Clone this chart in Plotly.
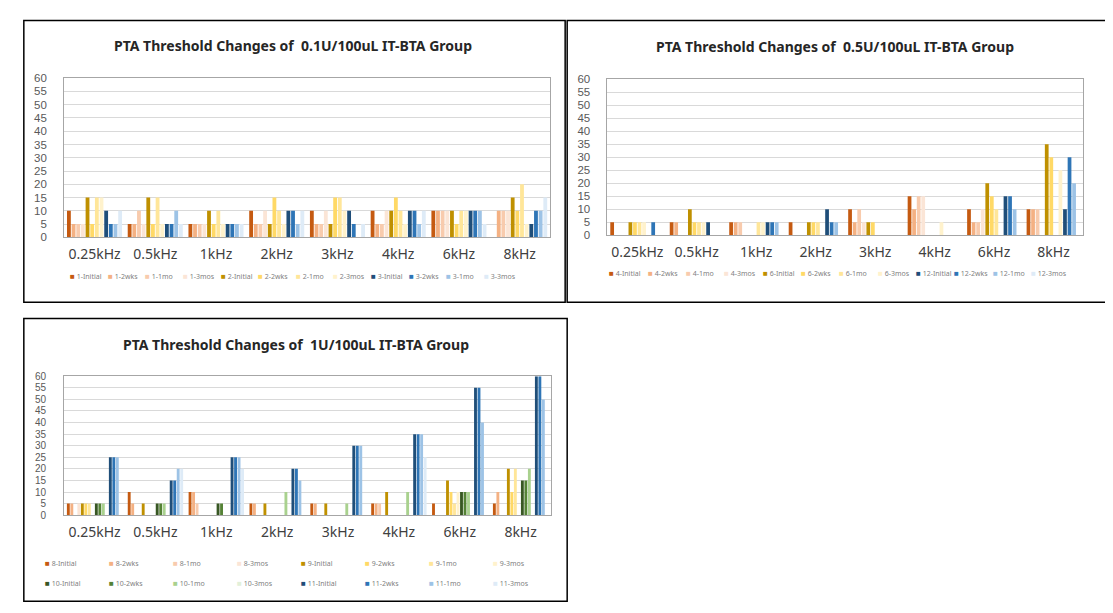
import plotly.graph_objects as go

W, H = 1113, 613

freqs = ["0.25kHz", "0.5kHz", "1kHz", "2kHz", "3kHz", "4kHz", "6kHz", "8kHz"]

# ---------- Panel 1: 0.1U/100uL ----------
p1_title = "PTA Threshold Changes of  0.1U/100uL IT-BTA Group"
p1_names = ["1-Initial", "1-2wks", "1-1mo", "1-3mos",
            "2-Initial", "2-2wks", "2-1mo", "2-3mos",
            "3-Initial", "3-2wks", "3-1mo", "3-3mos"]
p1_values = [
    [10, 5, 5, 10, 10, 10, 10, 0],    # 1-Initial
    [5, 5, 5, 5, 5, 5, 10, 10],       # 1-2wks
    [5, 10, 5, 5, 5, 5, 10, 10],      # 1-1mo
    [5, 5, 5, 10, 10, 10, 10, 10],    # 1-3mos
    [15, 15, 10, 5, 5, 10, 10, 15],   # 2-Initial
    [5, 5, 5, 15, 15, 15, 5, 10],     # 2-2wks
    [15, 15, 10, 10, 15, 10, 10, 20], # 2-1mo
    [15, 5, 5, 5, 10, 5, 10, 5],      # 2-3mos
    [10, 5, 5, 10, 10, 10, 10, 5],    # 3-Initial
    [5, 5, 5, 10, 5, 10, 10, 10],     # 3-2wks
    [5, 10, 5, 5, 0, 5, 10, 10],      # 3-1mo
    [10, 5, 5, 10, 5, 10, 5, 15],     # 3-3mos
]

# ---------- Panel 2: 0.5U/100uL ----------
p2_title = "PTA Threshold Changes of  0.5U/100uL IT-BTA Group"
p2_names = ["4-Initial", "4-2wks", "4-1mo", "4-3mos",
            "6-Initial", "6-2wks", "6-1mo", "6-3mos",
            "12-Initial", "12-2wks", "12-1mo", "12-3mos"]
p2_values = [
    [5, 5, 5, 5, 10, 15, 10, 10],     # 4-Initial
    [0, 5, 5, 0, 5, 10, 5, 10],       # 4-2wks
    [0, 0, 5, 0, 10, 15, 5, 10],      # 4-1mo
    [0, 0, 0, 0, 5, 15, 10, 0],       # 4-3mos
    [5, 10, 0, 5, 5, 0, 20, 35],      # 6-Initial
    [5, 5, 0, 5, 5, 0, 15, 30],       # 6-2wks
    [5, 5, 5, 5, 0, 0, 10, 0],        # 6-1mo
    [5, 5, 5, 0, 0, 5, 0, 25],        # 6-3mos
    [0, 5, 5, 10, 0, 0, 15, 10],      # 12-Initial
    [5, 0, 5, 5, 0, 0, 15, 30],       # 12-2wks
    [0, 0, 5, 5, 0, 0, 10, 20],       # 12-1mo
    [0, 0, 0, 0, 0, 0, 0, 0],         # 12-3mos
]

# ---------- Panel 3: 1U/100uL ----------
p3_title = "PTA Threshold Changes of  1U/100uL IT-BTA Group"
p3_names = ["8-Initial", "8-2wks", "8-1mo", "8-3mos",
            "9-Initial", "9-2wks", "9-1mo", "9-3mos",
            "10-Initial", "10-2wks", "10-1mo", "10-3mos",
            "11-Initial", "11-2wks", "11-1mo", "11-3mos"]
p3_values = [
    [5, 10, 10, 5, 5, 5, 5, 5],        # 8-Initial
    [5, 5, 10, 5, 5, 5, 0, 10],        # 8-2wks
    [0, 0, 5, 0, 0, 5, 0, 0],          # 8-1mo
    [5, 0, 0, 0, 0, 0, 0, 0],          # 8-3mos
    [5, 5, 0, 5, 5, 10, 15, 20],       # 9-Initial
    [5, 0, 0, 0, 0, 0, 10, 10],        # 9-2wks
    [5, 0, 0, 0, 0, 0, 5, 20],         # 9-1mo
    [0, 0, 0, 0, 0, 0, 10, 0],         # 9-3mos
    [5, 5, 5, 0, 0, 0, 10, 15],        # 10-Initial
    [5, 5, 5, 0, 0, 0, 10, 15],        # 10-2wks
    [5, 5, 0, 10, 5, 10, 10, 20],      # 10-1mo
    [0, 0, 0, 0, 0, 0, 0, 0],          # 10-3mos
    [25, 15, 25, 20, 30, 35, 55, 60],  # 11-Initial
    [25, 15, 25, 20, 30, 35, 55, 60],  # 11-2wks
    [25, 20, 25, 15, 30, 35, 40, 50],  # 11-1mo
    [0, 20, 20, 0, 0, 25, 0, 0],       # 11-3mos
]

y_ticks = list(range(0, 61, 5))

orange = ["#C55A11", "#F4B183", "#F8CBAD", "#FBE5D6"]
gold = ["#BF9000", "#FFD966", "#FFE699", "#FFF2CC"]
blue = ["#1F4E79", "#2E75B6", "#9DC3E6", "#DEEBF7"]
green = ["#385723", "#548235", "#A9D18E", "#E2F0D9"]

p1_colors = orange + gold + blue
p2_colors = orange + gold + blue
p3_colors = orange + gold + green + blue

# page -> figure compensation (the photographed page is offset/scaled slightly)
AX, BX = 0.992, 8.3
AY, BY = 0.967, 17.7


def fx(X):
    return ((X - BX) / AX) / W


def fy(Y):
    return 1 - ((Y - BY) / AY) / H


fig = go.Figure()

panels = [
    (p1_names, p1_values, p1_colors, "x", "y"),
    (p2_names, p2_values, p2_colors, "x2", "y2"),
    (p3_names, p3_values, p3_colors, "x3", "y3"),
]
for names, values, colors, xa, ya in panels:
    for n, v, c in zip(names, values, colors):
        fig.add_trace(go.Bar(x=freqs, y=v, name=n, marker_color=c,
                             marker_line_width=0, xaxis=xa, yaxis=ya,
                             showlegend=False))

FONT = "Noto Sans"
TICKFONT = "Liberation Sans"


def yax(size, standoff):
    return dict(range=[0, 60], tickvals=y_ticks, showgrid=True, gridcolor="#D9D9D9",
                gridwidth=1, showline=True, linecolor="#A6A6A6", linewidth=1, mirror=True,
                ticks="", zeroline=False, ticklabelstandoff=standoff,
                tickfont=dict(family=TICKFONT, size=size, color="#595959"), fixedrange=True)


xax = dict(type="category", showline=True, linecolor="#A6A6A6", linewidth=1,
           mirror=True, ticks="", showgrid=False, ticklabelstandoff=4,
           tickfont=dict(family=FONT, size=14, color="#404040"))

fig.update_layout(
    width=W, height=H, margin=dict(l=0, r=0, t=0, b=0),
    paper_bgcolor="white", plot_bgcolor="white",
    barmode="group", bargap=0.08, bargroupgap=0.18,
    xaxis=dict(domain=[fx(64), fx(546)], anchor="y", **xax),
    yaxis=dict(domain=[fy(238), fy(81)], anchor="x", **yax(11.5, 14)),
    xaxis2=dict(domain=[fx(603), fx(1075)], anchor="y2", **xax),
    yaxis2=dict(domain=[fy(236), fy(82)], anchor="x2", **yax(11.5, 14)),
    xaxis3=dict(domain=[fx(64), fx(547)], anchor="y3", **xax),
    yaxis3=dict(domain=[fy(512), fy(375)], anchor="x3", **yax(10, 15)),
)

# panel frames
for (x0, y0, x1, y1) in [(24, 24, 561, 302), (563, 24, 1103, 302), (24, 318, 563, 597)]:
    fig.add_shape(type="rect", xref="paper", yref="paper",
                  x0=fx(x0), x1=fx(x1), y0=fy(y1), y1=fy(y0),
                  line=dict(color="black", width=1.5), fillcolor="rgba(0,0,0,0)")

# titles
for txt, cx, cy in [(p1_title, 291, 49), (p2_title, 829, 50), (p3_title, 294, 344)]:
    fig.add_annotation(text="<b>" + txt + "</b>", xref="paper", yref="paper",
                       x=fx(cx), y=fy(cy), showarrow=False,
                       xanchor="center", yanchor="middle",
                       font=dict(family=FONT, size=14, color="#262626"))


# legends (custom, Excel-like compact)
def add_legend(names, colors, x0, y0, dx, per_row, dy):
    for i, (n, c) in enumerate(zip(names, colors)):
        r, k = divmod(i, per_row)
        fig.add_annotation(
            text=f"<span style='color:{c};font-size:8px'>■</span> {n}",
            xref="paper", yref="paper", x=fx(x0 + k * dx), y=fy(y0 + r * dy),
            showarrow=False, xanchor="left", yanchor="middle",
            font=dict(family=FONT, size=7, color="#7F7F7F"))


add_legend(p1_names, p1_colors, 68, 276, 37.3, 12, 0)
add_legend(p2_names, p2_colors, 603, 273, 38.0, 12, 0)
add_legend(p3_names, p3_colors, 43, 559, 63.5, 8, 19)

fig.write_html("out.html")
